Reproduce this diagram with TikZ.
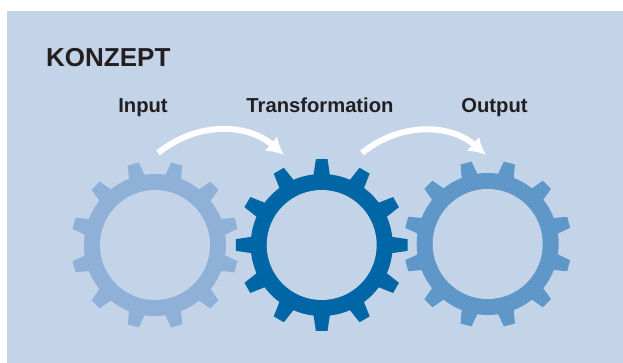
\documentclass[tikz,border=0pt]{standalone}
\usepackage{fontspec}
\setmainfont{Liberation Sans}
\usetikzlibrary{arrows.meta}
\definecolor{konzeptbg}{HTML}{C3D3E8}
\definecolor{gearone}{HTML}{8FB0D7}
\definecolor{geartwo}{HTML}{0066A6}
\definecolor{gearthree}{HTML}{5E97C8}
\definecolor{inktext}{HTML}{231F20}
\begin{document}
\begin{tikzpicture}[x=1pt,y=1pt,
    label/.style={inner sep=0pt,anchor=base,text=inktext,font=\fontsize{20.2}{24}\selectfont\bfseries},
    flow/.style={white,line width=6pt,-{Latex[length=17pt,width=19pt]}}]
    \useasboundingbox (0,0) rectangle (623,363);
    \fill [konzeptbg] (7,0) rectangle (623,352);% Background panel
    \coordinate (GearIn)    at (155,118);
    \coordinate (GearTrans) at (321.7,118);
    \coordinate (GearOut)   at (487.7,119);
    \coordinate (FlowAStart) at (158,210);
    \coordinate (FlowAEnd)   at (284,208);
    \coordinate (FlowBStart) at (362,210);
    \coordinate (FlowBEnd)   at (486,208);
    \node [inner sep=0pt,anchor=base west,text=inktext,font=\fontsize{26}{30}\selectfont\bfseries] (Title) at (46,296) {KONZEPT};
    \node [label] (Input) at (143,250) {Input};
    \node [label] (Transformation) at (320,250) {Transformation};
    \node [label] (Output) at (494.5,250) {Output};
    % Gears: ring plus twelve teeth
    \foreach \g/\col/\off/\tip in {GearIn/gearone/15/84,GearTrans/geartwo/0/86,GearOut/gearthree/15/84}{
      \begin{scope}[shift={(\g)}]
        \fill [\col] (0,0) circle (71);
        \foreach \k in {0,...,11}
          \fill [\col] (\off+30*\k-7:69) -- (\off+30*\k-3.9:\tip) -- (\off+30*\k+3.9:\tip) -- (\off+30*\k+7:69) -- cycle;
        \fill [konzeptbg] (0,0) circle (55);
      \end{scope}
    }
    \draw [flow] (FlowAStart) to[bend left=40] (FlowAEnd);% Input to Transformation
    \draw [flow] (FlowBStart) to[bend left=40] (FlowBEnd);% Transformation to Output
\end{tikzpicture}
\end{document}
